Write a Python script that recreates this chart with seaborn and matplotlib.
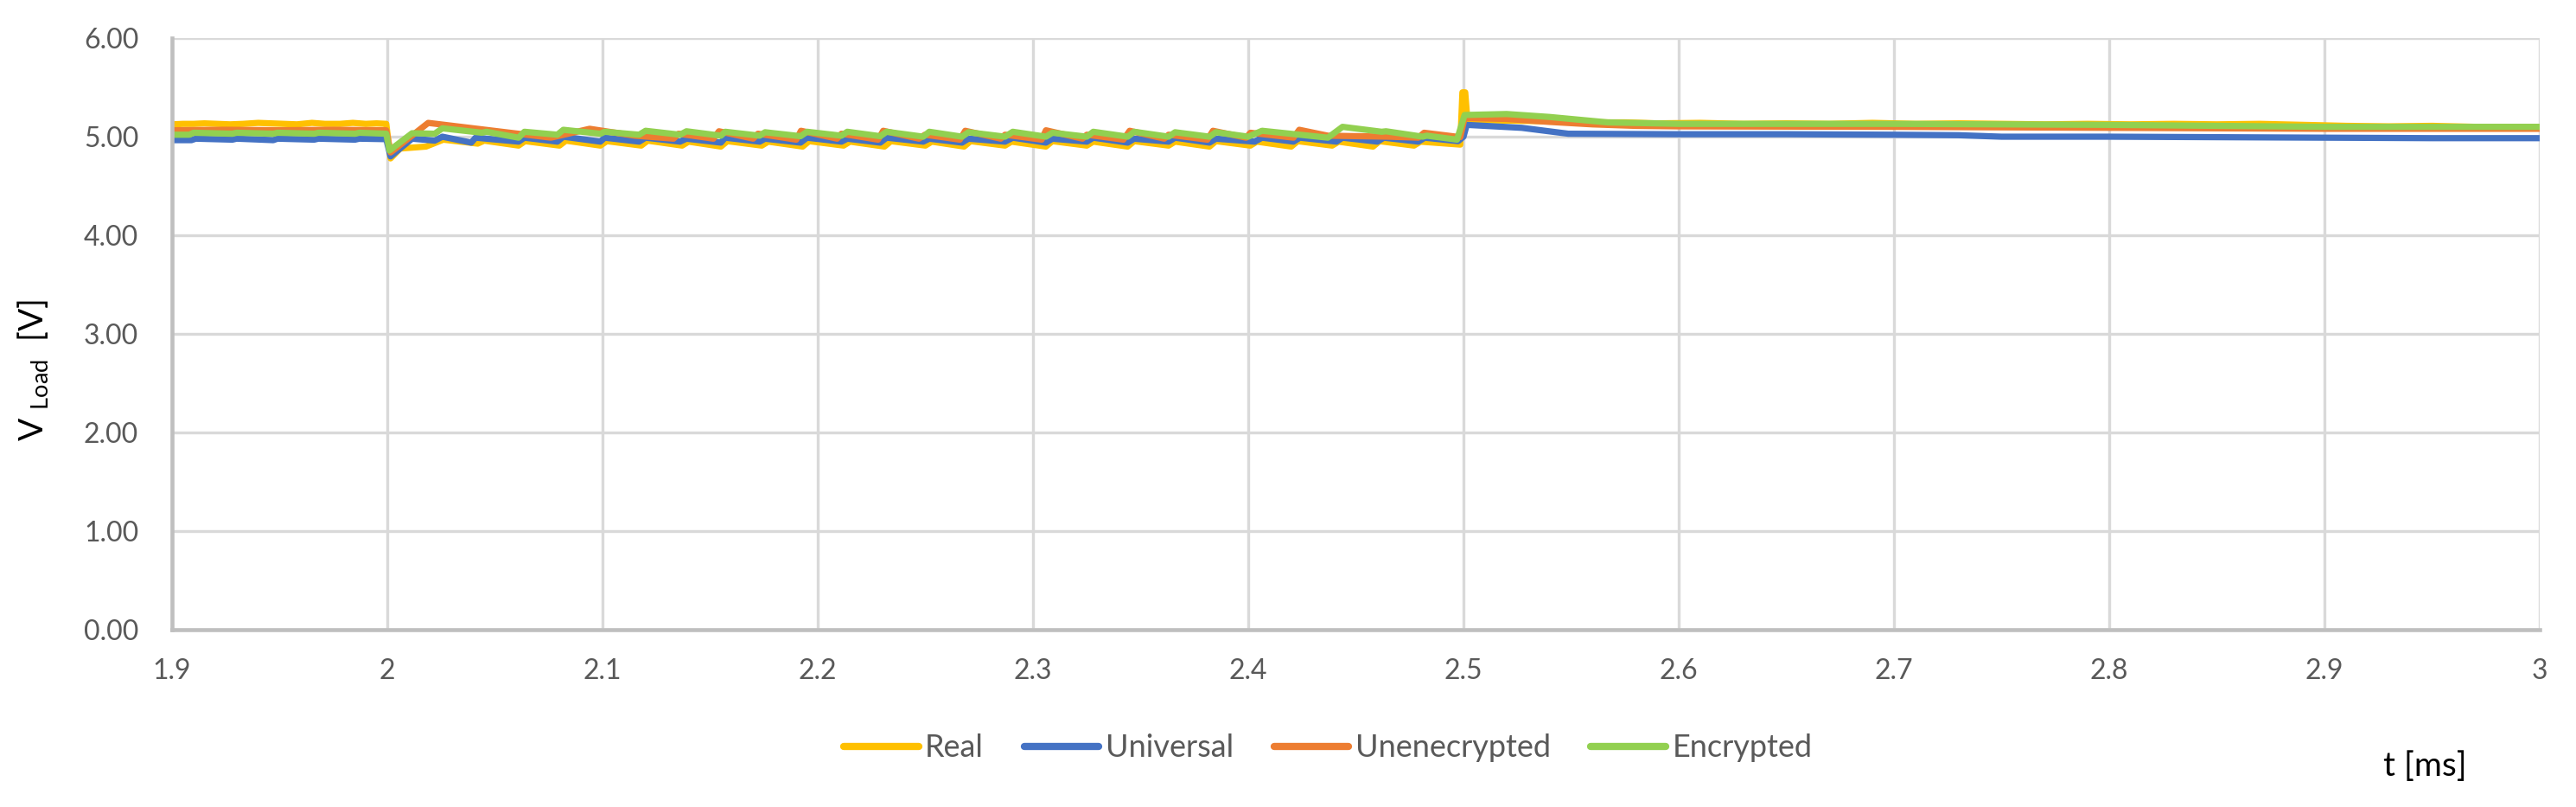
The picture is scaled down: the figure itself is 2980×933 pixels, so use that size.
import numpy as np
import pandas as pd
import matplotlib
matplotlib.use("Agg")
import matplotlib.pyplot as plt
import seaborn as sns
from matplotlib.ticker import FixedLocator, FixedFormatter, FormatStrFormatter

# ---------------- data ----------------
series_names = ["Real", "Universal", "Unenecrypted", "Encrypted"]
series_colors = ["#FFC000", "#4472C4", "#ED7D31", "#92D050"]

real_t = [1.900, 1.905, 1.910, 1.915, 1.921, 1.927, 1.933, 1.940, 1.946, 1.952, 1.958, 1.965, 1.971, 1.978, 1.984, 1.990, 1.995, 1.9995,
          2.0015, 2.006, 2.018, 2.026, 2.042, 2.045,
          2.061, 2.064, 2.080, 2.083, 2.099, 2.102, 2.118, 2.121, 2.137, 2.140,
          2.155, 2.158, 2.174, 2.177, 2.193, 2.196, 2.212, 2.215, 2.231, 2.234,
          2.250, 2.253, 2.268, 2.271, 2.287, 2.290, 2.306, 2.309, 2.325, 2.328,
          2.344, 2.347, 2.363, 2.366, 2.382, 2.385, 2.401, 2.404, 2.420, 2.423,
          2.439, 2.442, 2.458, 2.461, 2.477, 2.480,
          2.4985, 2.4995, 2.5008, 2.5018,
          2.515, 2.530, 2.545, 2.560, 2.575, 2.590, 2.610, 2.630, 2.650, 2.670,
          2.690, 2.710, 2.730, 2.750, 2.770, 2.790, 2.810, 2.830, 2.850, 2.870,
          2.890, 2.910, 2.930, 2.950, 2.970, 3.000]
real_v = [5.125, 5.13, 5.13, 5.135, 5.13, 5.125, 5.13, 5.14, 5.135, 5.13, 5.125, 5.14, 5.13, 5.13, 5.14, 5.13, 5.135, 5.13,
          4.78, 4.88, 4.90, 4.97, 4.93, 4.96,
          4.91, 4.955, 4.91, 4.96, 4.91, 4.955, 4.91, 4.96, 4.91, 4.95,
          4.90, 4.955, 4.91, 4.95, 4.90, 4.955, 4.91, 4.95, 4.90, 4.955,
          4.91, 4.95, 4.90, 4.955, 4.91, 4.95, 4.90, 4.955, 4.91, 4.95,
          4.90, 4.955, 4.91, 4.95, 4.90, 4.955, 4.91, 4.95, 4.90, 4.955,
          4.91, 4.95, 4.90, 4.955, 4.91, 4.95,
          4.92, 5.45, 5.45, 5.17,
          5.165, 5.16, 5.155, 5.145, 5.145, 5.135, 5.14, 5.13, 5.135, 5.13,
          5.14, 5.13, 5.135, 5.13, 5.125, 5.13, 5.125, 5.13, 5.125, 5.13,
          5.12, 5.11, 5.105, 5.11, 5.10, 5.10]

univ_t = [1.900, 1.909, 1.911, 1.928, 1.930, 1.947, 1.949, 1.966, 1.968, 1.985, 1.987, 1.9995,
          2.0015, 2.0115, 2.022, 2.0256, 2.039, 2.041, 2.061, 2.0637, 2.079, 2.0818,
          2.099, 2.101, 2.117, 2.120, 2.136, 2.139, 2.155, 2.157, 2.173, 2.1755,
          2.192, 2.195, 2.211, 2.2137, 2.229, 2.232, 2.249, 2.2518, 2.267, 2.270,
          2.287, 2.2906, 2.306, 2.309, 2.325, 2.328, 2.344, 2.347, 2.363, 2.366,
          2.382, 2.385, 2.403, 2.4064, 2.421, 2.424, 2.441, 2.4438, 2.460, 2.463,
          2.479, 2.482, 2.4975, 2.500, 2.5015,
          2.527, 2.5487, 2.600, 2.650, 2.700, 2.730, 2.750, 2.800, 2.850, 2.900, 2.950, 3.000]
univ_v = [4.965, 4.965, 4.98, 4.97, 4.98, 4.965, 4.98, 4.97, 4.98, 4.97, 4.98, 4.975,
          4.80, 4.98, 4.96, 5.00, 4.94, 4.99, 4.95, 4.99, 4.95, 5.00,
          4.95, 4.99, 4.95, 4.99, 4.95, 4.98, 4.94, 4.99, 4.95, 4.98,
          4.94, 4.99, 4.95, 4.98, 4.94, 4.99, 4.95, 4.98, 4.94, 4.98,
          4.95, 4.99, 4.94, 4.98, 4.95, 4.99, 4.94, 4.98, 4.95, 4.99,
          4.94, 4.98, 4.95, 4.99, 4.95, 4.99, 4.95, 4.99, 4.95, 4.99,
          4.95, 4.99, 4.955, 5.00, 5.12,
          5.09, 5.03, 5.025, 5.025, 5.02, 5.015, 5.00, 5.00, 4.995, 4.99, 4.985, 4.985]

unenc_t = [1.900, 1.925, 1.950, 1.975, 1.9995,
           2.0015, 2.019, 2.076, 2.094, 2.115,
           2.133, 2.1353, 2.1515, 2.1541, 2.170, 2.1722, 2.190, 2.1922,
           2.209, 2.211, 2.228, 2.2304, 2.247, 2.2498, 2.266, 2.2685,
           2.285, 2.287, 2.304, 2.306, 2.323, 2.325, 2.342, 2.3449,
           2.361, 2.363, 2.381, 2.3836, 2.399, 2.401, 2.421, 2.4237,
           2.437, 2.465, 2.479, 2.4817, 2.4985, 2.5005,
           2.520, 2.540, 2.560, 2.580, 2.600, 2.700, 2.800, 2.900, 3.000]
unenc_v = [5.065, 5.07, 5.065, 5.07, 5.065,
           4.84, 5.14, 4.99, 5.08, 5.01,
           4.98, 5.03, 4.98, 5.055, 4.98, 5.03, 4.97, 5.06,
           4.98, 5.03, 4.97, 5.06, 4.98, 5.02, 4.97, 5.06,
           4.98, 5.02, 4.97, 5.065, 4.98, 5.02, 4.97, 5.06,
           4.98, 5.02, 4.97, 5.06, 4.99, 5.04, 4.99, 5.07,
           5.01, 5.00, 4.99, 5.04, 4.995, 5.19,
           5.18, 5.15, 5.125, 5.11, 5.105, 5.10, 5.09, 5.08, 5.08]

enc_t = [1.900, 1.908, 1.910, 1.928, 1.930, 1.947, 1.949, 1.966, 1.968, 1.985, 1.987, 1.9995,
         2.001, 2.0115, 2.022, 2.0256, 2.044, 2.046, 2.061, 2.0637, 2.079, 2.0818,
         2.099, 2.101, 2.117, 2.120, 2.136, 2.139, 2.155, 2.157, 2.173, 2.1755,
         2.192, 2.195, 2.211, 2.2137, 2.229, 2.232, 2.249, 2.2518, 2.267, 2.270,
         2.287, 2.2906, 2.306, 2.309, 2.325, 2.328, 2.344, 2.347, 2.363, 2.366,
         2.382, 2.385, 2.400, 2.4064, 2.437, 2.4438, 2.462, 2.464, 2.481, 2.483,
         2.497, 2.5005, 2.520, 2.540, 2.567, 2.600, 2.700, 2.800, 2.900, 3.000]
enc_v = [5.02, 5.02, 5.04, 5.03, 5.04, 5.03, 5.04, 5.03, 5.04, 5.03, 5.04, 5.03,
         4.86, 5.035, 5.03, 5.085, 5.04, 5.05, 4.99, 5.05, 5.02, 5.07,
         5.03, 5.05, 5.02, 5.06, 5.02, 5.055, 5.01, 5.05, 5.01, 5.045,
         5.005, 5.05, 5.01, 5.05, 5.005, 5.05, 5.00, 5.05, 5.00, 5.045,
         5.00, 5.05, 5.00, 5.04, 5.00, 5.05, 5.00, 5.05, 5.00, 5.045,
         5.00, 5.045, 5.00, 5.06, 4.99, 5.10, 5.05, 5.055, 5.00, 5.01,
         4.97, 5.22, 5.23, 5.20, 5.145, 5.13, 5.13, 5.12, 5.10, 5.10]

x_ticks = [1.9, 2.0, 2.1, 2.2, 2.3, 2.4, 2.5, 2.6, 2.7, 2.8, 2.9, 3.0]
x_tick_labels = ["1.9", "2", "2.1", "2.2", "2.3", "2.4", "2.5", "2.6", "2.7", "2.8", "2.9", "3"]
y_ticks = [0, 1, 2, 3, 4, 5, 6]

for a, b in [(real_t, real_v), (univ_t, univ_v), (unenc_t, unenc_v), (enc_t, enc_v)]:
    assert len(a) == len(b), (len(a), len(b))

frames = []
for name, t, v in zip(series_names, [real_t, univ_t, unenc_t, enc_t], [real_v, univ_v, unenc_v, enc_v]):
    frames.append(pd.DataFrame({"t": t, "V": v, "series": name, "order": np.arange(len(t))}))
df = pd.concat(frames, ignore_index=True)

# ---------------- plot ----------------
sns.set_style("white")
plt.rcParams["font.family"] = ["Lato", "DejaVu Sans"]
plt.rcParams["mathtext.fontset"] = "custom"
plt.rcParams["mathtext.rm"] = "Lato"
plt.rcParams["mathtext.default"] = "regular"

fig = plt.figure(figsize=(29.8, 9.33), dpi=100)
ax = fig.add_axes([0.0668, 0.2197, 0.9191, 0.7331])

sns.lineplot(data=df, x="t", y="V", hue="series", hue_order=series_names,
             palette=series_colors, sort=False, estimator=None, units="series",
             lw=5.2, ax=ax, legend=True)
for line in ax.get_lines():
    line.set_solid_joinstyle("round")
    line.set_solid_capstyle("butt")

ax.set_xlim(1.9, 3.0)
ax.set_ylim(0, 6)
ax.xaxis.set_major_locator(FixedLocator(x_ticks))
ax.xaxis.set_major_formatter(FixedFormatter(x_tick_labels))
ax.yaxis.set_major_locator(FixedLocator(y_ticks))
ax.yaxis.set_major_formatter(FormatStrFormatter("%.2f"))
ax.tick_params(axis="both", length=0, labelsize=23, labelcolor="#595959")
ax.tick_params(axis="y", pad=28)
ax.tick_params(axis="x", pad=24)
ax.grid(True, color="#d9d9d9", lw=2.4)
ax.set_axisbelow(True)
for s in ["top", "right"]:
    ax.spines[s].set_visible(False)
for s in ["left", "bottom"]:
    ax.spines[s].set_color("#bfbfbf")
    ax.spines[s].set_linewidth(3.3)
ax.set_xlabel("")
ax.set_ylabel("")

handles, labels = ax.get_legend_handles_labels()
if ax.legend_ is not None:
    ax.legend_.remove()
leg = fig.legend(handles, labels, loc="center", bbox_to_anchor=(0.5155, 0.0729), ncol=4,
                 frameon=False, fontsize=26, handlelength=2.4, handletextpad=0.2,
                 columnspacing=1.3, labelcolor="#595959")
for h in leg.legend_handles:
    h.set_linewidth(6)
    h.set_solid_capstyle("round")

fig.text(0.0128, 0.541, r"V $_{Load}$  [V]", rotation=90, ha="center", va="center",
         fontsize=28, color="black")
fig.text(0.9413, 0.0504, "t [ms]", ha="center", va="center", fontsize=28, color="black")

fig.savefig("out.png", dpi=100)
